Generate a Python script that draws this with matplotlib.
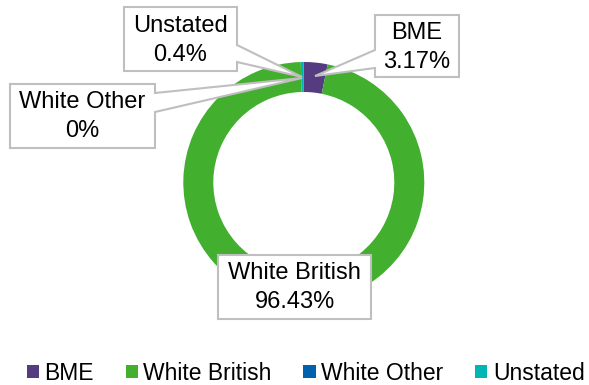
import matplotlib
matplotlib.use("Agg")
import matplotlib.pyplot as plt
from matplotlib.patches import Polygon, Patch

plt.rcParams['font.family'] = ['Liberation Sans', 'DejaVu Sans']

# Ethnicity breakdown
categories = ["BME", "White British", "White Other", "Unstated"]
percentages = [3.17, 96.43, 0.0, 0.4]
colors = ["#553B7F", "#43AF2F", "#0062AF", "#00B5B5"]

W, H = 589, 385
fig = plt.figure(figsize=(W / 100, H / 100), dpi=100)
ax = fig.add_axes([0, 0, 1, 1])


def Y(py):
    # convert a top-down pixel row into the axes' bottom-up coordinate
    return H - py


cx, cy = 303.8, 182.5
outer_r, ring_w = 120.5, 30.0
ax.pie(percentages, colors=colors, startangle=90, counterclock=False,
       radius=outer_r, center=(cx, Y(cy)),
       wedgeprops=dict(width=ring_w, edgecolor="none", linewidth=0))
ax.set_xlim(0, W)
ax.set_ylim(0, H)
ax.set_aspect("equal")
ax.axis("off")

border = "#BFBFBF"


def callout(box, side=None, base=None, tip=None):
    x0, y0, x1, y1 = box
    if side == "right":
        ya, yb = base
        pts = [(x0, y0), (x1, y0), (x1, ya), tip, (x1, yb), (x1, y1), (x0, y1)]
    elif side == "left":
        ya, yb = base
        pts = [(x0, y0), (x1, y0), (x1, y1), (x0, y1), (x0, yb), tip, (x0, ya)]
    else:
        pts = [(x0, y0), (x1, y0), (x1, y1), (x0, y1)]
    poly = Polygon([(x, Y(y)) for x, y in pts], closed=True,
                   facecolor="white", edgecolor=border, linewidth=1.5,
                   zorder=5, joinstyle="miter")
    ax.add_patch(poly)


def label_text(idx, x, y_top, y_bot):
    ax.text(x, Y(y_top), categories[idx], ha="center", va="center",
            fontsize=17, color="black", zorder=6)
    ax.text(x, Y(y_bot), f"{percentages[idx]:g}%", ha="center", va="center",
            fontsize=17, color="black", zorder=6)


# Unstated
callout((124, 7, 237, 71), "right", (45, 62), (302, 77))
label_text(3, 180.5, 26, 55)
# White Other
callout((10, 84, 155, 148), "right", (93, 112), (302, 78))
label_text(2, 82.5, 102, 131)
# BME
callout((375, 15, 459, 77), "left", (50, 68), (315, 76))
label_text(0, 417, 33, 62)
# White British
callout((218, 255, 371, 319))
label_text(1, 294.5, 273, 302)

handles = [Patch(facecolor=c, edgecolor="none") for c in colors]
fig.legend(handles, categories, loc="center", ncol=4, frameon=False,
           bbox_to_anchor=(0.519, 1 - 373 / H), fontsize=16.5,
           handlelength=0.53, handleheight=0.53, handletextpad=0.25,
           columnspacing=1.38, borderaxespad=0, borderpad=0)

fig.savefig("out.png", dpi=100)
